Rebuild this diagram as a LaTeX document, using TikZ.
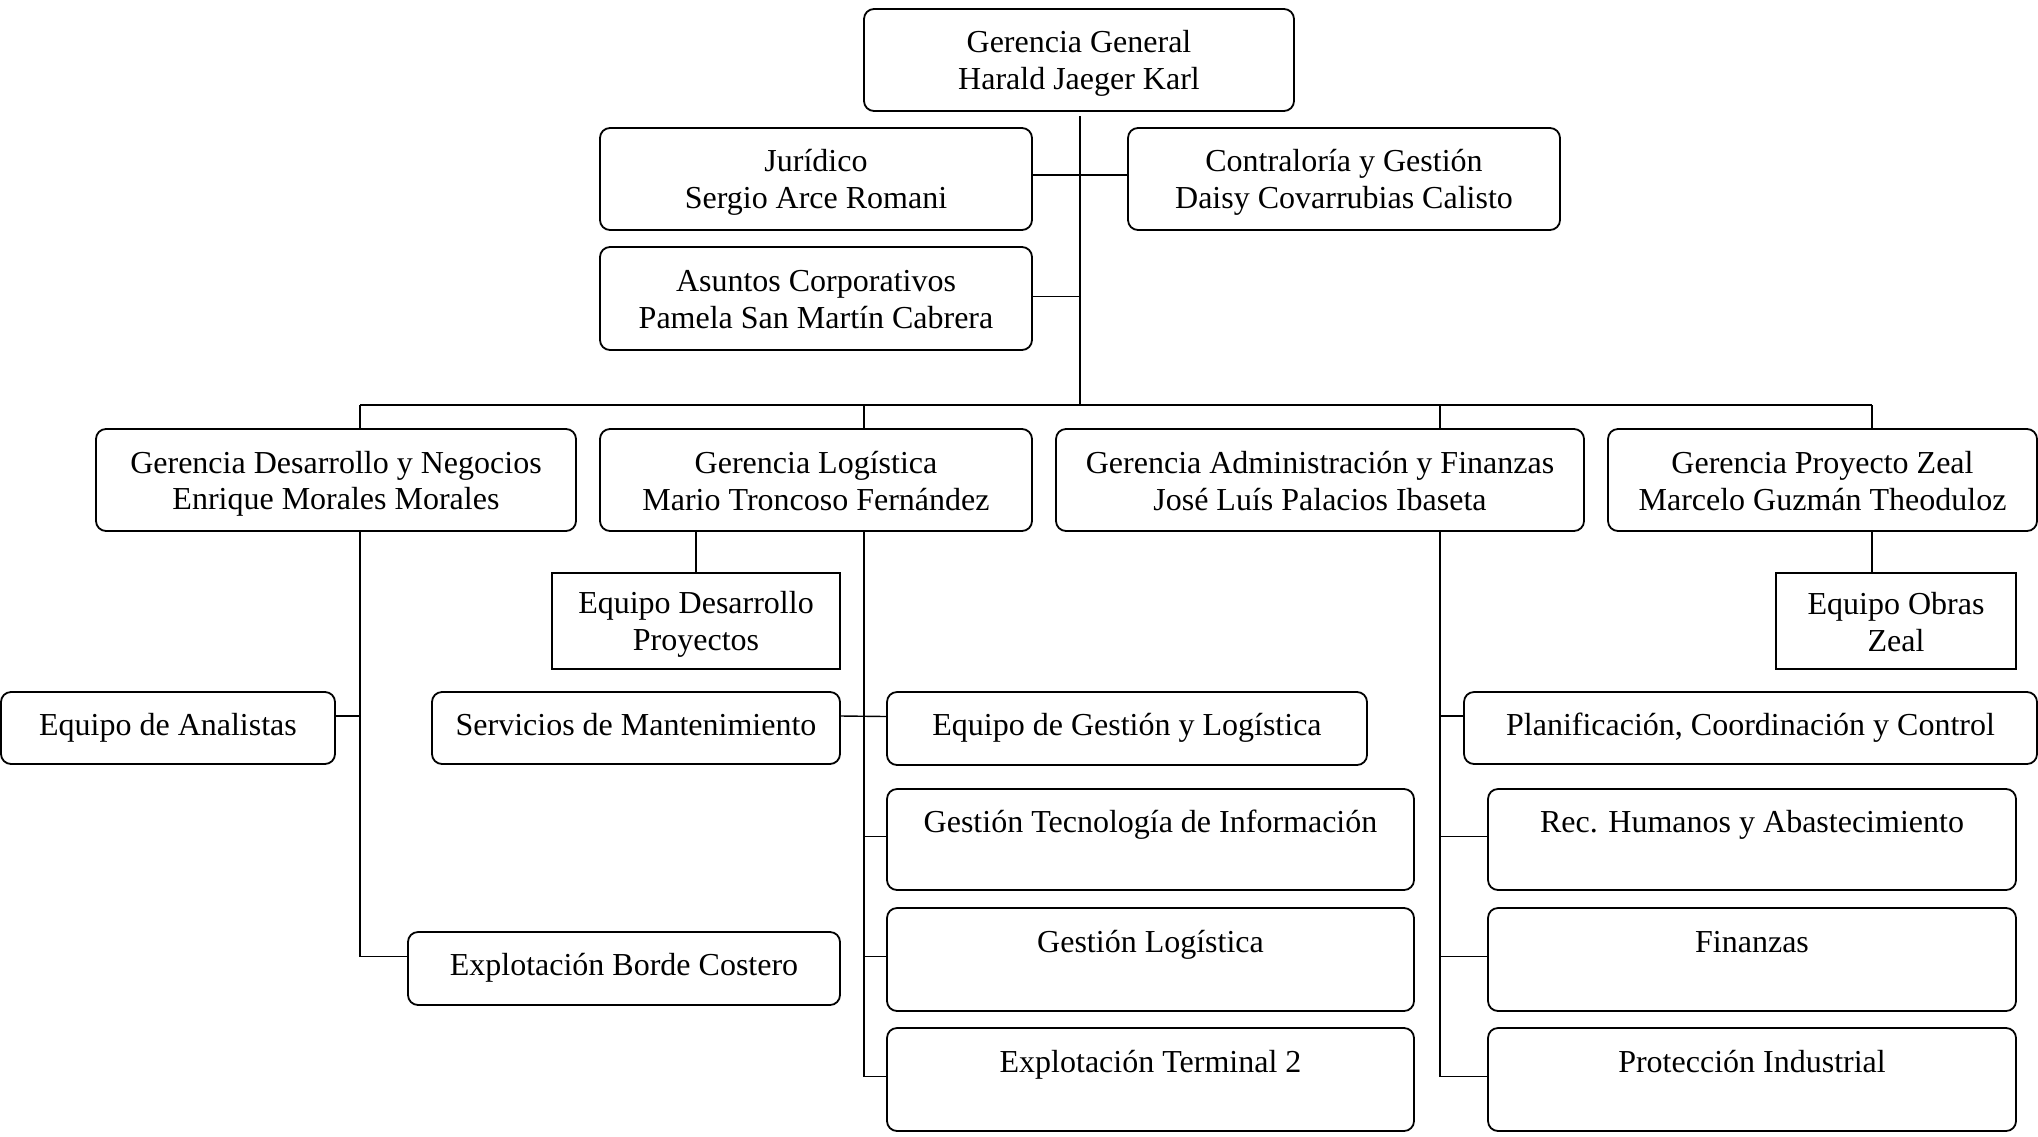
\documentclass[tikz,border=0pt]{standalone}
\usepackage{fontspec}
\setmainfont{Liberation Serif}
\newcommand\tstrut{\rule[-3pt]{0pt}{17.8pt}}
\begin{document}
\begin{tikzpicture}[x=0.5pt,y=-0.5pt,
  box/.style={draw, line width=0.9pt, rounded corners=5pt, inner sep=0pt, align=center,
    font=\fontsize{16}{18.4}\selectfont},
  sq/.style={box, rounded corners=0pt},
  conn/.style={line width=0.7pt}]
\useasboundingbox (0,0) rectangle (2038,1136);
% top level
\node[box, minimum width=215pt, minimum height=51pt] (gg) at (1079,60) {\tstrut Gerencia General\\\tstrut Harald Jaeger Karl};
\node[box, minimum width=216pt, minimum height=51pt] (jur) at (816,179) {\tstrut Jurídico\\\tstrut Sergio Arce Romani};
\node[box, minimum width=216pt, minimum height=51pt] (con) at (1344,179) {\tstrut Contraloría y Gestión\\\tstrut Daisy Covarrubias Calisto};
\node[box, minimum width=216pt, minimum height=51.5pt] (asu) at (816,298.5) {\tstrut Asuntos Corporativos\\\tstrut Pamela San Martín Cabrera};
% managers
\node[box, minimum width=240pt, minimum height=51pt] (gdn) at (336,480) {\tstrut Gerencia Desarrollo y Negocios\\\tstrut Enrique Morales Morales};
\node[box, minimum width=216pt, minimum height=51pt] (gl) at (816,480) {\tstrut Gerencia Logística\\\tstrut Mario Troncoso Fernández};
\node[box, minimum width=264pt, minimum height=51pt] (gaf) at (1320,480) {\tstrut Gerencia Administración y Finanzas\\\tstrut José Luís Palacios Ibaseta};
\node[box, minimum width=214.5pt, minimum height=51pt] (gpz) at (1822.5,480) {\tstrut Gerencia Proyecto Zeal\\\tstrut Marcelo Guzmán Theoduloz};
% teams
\node[sq, minimum width=144pt, minimum height=48pt] (edp) at (696,621) {\tstrut Equipo Desarrollo\\\tstrut Proyectos};
\node[sq, minimum width=120pt, minimum height=48pt] (eoz) at (1896,621) {\tstrut Equipo Obras\\\tstrut Zeal};
\node[box, minimum width=167pt, minimum height=36pt] (ean) at (168,728) {\strut Equipo de Analistas};
\node[box, minimum width=204pt, minimum height=36pt] (sdm) at (636,728) {\strut Servicios de Mantenimiento};
\node[box, minimum width=240pt, minimum height=36.5pt] (egl) at (1127,728.5) {\strut Equipo de Gestión y Logística};
\node[box, minimum width=286.5pt, minimum height=36pt] (pcc) at (1750.5,728) {\strut Planificación, Coordinación y Control};
\node[box, minimum width=216pt, minimum height=36.5pt] (ebc) at (624,968.5) {\strut Explotación Borde Costero};
\node[box, minimum width=263.5pt, minimum height=50.5pt] (gti) at (1150.5,839.5) {\tstrut Gestión Tecnología de Información\\\tstrut};
\node[box, minimum width=263.5pt, minimum height=51.5pt] (glo) at (1150.5,959.5) {\tstrut Gestión Logística\\\tstrut};
\node[box, minimum width=263.5pt, minimum height=51.5pt] (et2) at (1150.5,1079.5) {\tstrut Explotación Terminal 2\\\tstrut};
\node[box, minimum width=264pt, minimum height=50.5pt] (rha) at (1752,839.5) {\tstrut Rec. Humanos y Abastecimiento\\\tstrut};
\node[box, minimum width=264pt, minimum height=51.5pt] (fin) at (1752,959.5) {\tstrut Finanzas\\\tstrut};
\node[box, minimum width=264pt, minimum height=51.5pt] (pin) at (1752,1079.5) {\tstrut Protección Industrial\\\tstrut};
% bus coordinates
\coordinate (trTop) at (1080,116);
\coordinate (bL) at (360,405);
\coordinate (bGL) at (864,405);
\coordinate (bC) at (1080,405);
\coordinate (bGAF) at (1440,405);
\coordinate (bR) at (1872,405);
% connectors
\draw[conn] (trTop) -- (bC);
\draw[conn] (bL) -- (bR);
\draw[conn] ([yshift=2pt]jur.east) -- ([yshift=2pt]con.west);
\draw[conn] ([yshift=1pt]asu.east) -- ([yshift=1pt]asu.east -| bC);
\draw[conn] (bL) -- (gdn.north -| bL);
\draw[conn] (bGL) -- (gl.north -| bGL);
\draw[conn] (bGAF) -- (gaf.north -| bGAF);
\draw[conn] (bR) -- (gpz.north -| bR);
% GDN branch
\draw[conn] (gdn.south -| bL) |- ([yshift=6pt]ebc.west);
\draw[conn] ([yshift=6pt]ean.east) -- ([yshift=6pt]ean.east -| bL);
% GL branch
\draw[conn] (edp.north |- gl.south) -- (edp.north);
\draw[conn] (gl.south -| bGL) |- ([yshift=1.5pt]et2.west);
\draw[conn] ([yshift=6pt]sdm.east) -- ([yshift=6pt]egl.west);
\draw[conn] ([yshift=1.5pt]gti.west) -- ([yshift=1.5pt]gti.west -| bGL);
\draw[conn] ([yshift=1.5pt]glo.west) -- ([yshift=1.5pt]glo.west -| bGL);
% GAF branch
\draw[conn] (gaf.south -| bGAF) |- ([yshift=1.5pt]pin.west);
\draw[conn] ([yshift=6pt]pcc.west) -- ([yshift=6pt]pcc.west -| bGAF);
\draw[conn] ([yshift=1.5pt]rha.west) -- ([yshift=1.5pt]rha.west -| bGAF);
\draw[conn] ([yshift=1.5pt]fin.west) -- ([yshift=1.5pt]fin.west -| bGAF);
% GPZ branch
\draw[conn] (gpz.south -| bR) -- (eoz.north -| bR);
\end{tikzpicture}
\end{document}
